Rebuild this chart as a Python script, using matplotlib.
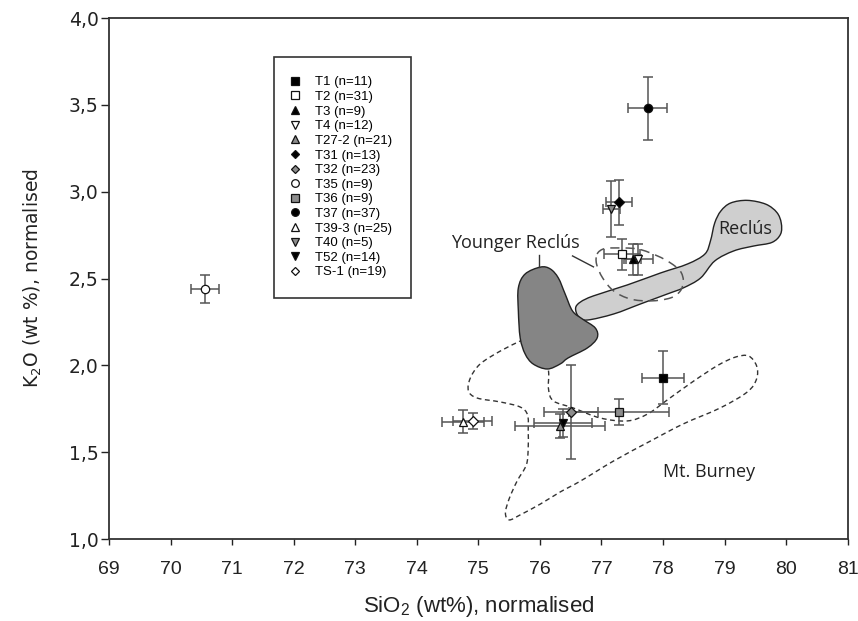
'''
Diagrama K2O vs SiO2 (normalizados) de tefras, con los campos de Reclús,
Younger Reclús y Mt. Burney.
'''
import numpy as np
import matplotlib
matplotlib.use('Agg')
import matplotlib.pyplot as plt
from matplotlib.path import Path
from matplotlib.patches import PathPatch
from matplotlib.lines import Line2D

plt.rcParams['mathtext.fontset'] = 'custom'
plt.rcParams['mathtext.rm'] = 'Liberation Sans'
plt.rcParams['mathtext.default'] = 'regular'

# ---Datos---
muestras = ['T1 (n=11)', 'T2 (n=31)', 'T3 (n=9)', 'T4 (n=12)', 'T27-2 (n=21)',
            'T31 (n=13)', 'T32 (n=23)', 'T35 (n=9)', 'T36 (n=9)', 'T37 (n=37)',
            'T39-3 (n=25)', 'T40 (n=5)', 'T52 (n=14)', 'TS-1 (n=19)']
sio2 = [78.00, 77.33, 77.52, 77.60, 76.32, 77.29, 76.50, 70.56, 77.29, 77.75,
        74.75, 77.16, 76.37, 74.91]
k2o = [1.93, 2.64, 2.61, 2.61, 1.65, 2.94, 1.73, 2.44, 1.73, 3.48,
       1.675, 2.90, 1.67, 1.68]
sio2_err = [0.34, 0.29, 0.12, 0.24, 0.73, 0.21, 0.44, 0.23, 0.81, 0.32,
            0.34, 0.14, 0.47, 0.32]
k2o_err = [0.15, 0.09, 0.09, 0.09, 0.07, 0.13, 0.27, 0.08, 0.075, 0.18,
           0.066, 0.16, 0.08, 0.045]

# Campos (contornos en unidades de los ejes)
reclus_x = [76.58, 76.66, 76.87, 77.42, 77.96, 78.40, 78.68, 78.77, 78.84, 78.94,
            79.10, 79.37, 79.67, 79.85, 79.92, 79.91, 79.77, 79.47, 79.15, 78.84,
            78.61, 78.33, 78.07, 77.63, 77.20, 76.77, 76.63]
reclus_y = [2.330, 2.365, 2.400, 2.463, 2.532, 2.584, 2.641, 2.716, 2.820, 2.889,
            2.935, 2.950, 2.928, 2.880, 2.820, 2.756, 2.708, 2.687, 2.659, 2.601,
            2.503, 2.446, 2.411, 2.353, 2.296, 2.261, 2.279]

oscuro_x = [76.01, 76.17, 76.30, 76.41, 76.53, 76.69, 76.90, 76.93, 76.77, 76.46,
            76.33, 76.12, 75.89, 75.76, 75.68, 75.65, 75.65, 75.76]
oscuro_y = [2.566, 2.555, 2.503, 2.411, 2.313, 2.267, 2.215, 2.158, 2.100, 2.043,
            2.008, 1.979, 2.008, 2.066, 2.158, 2.313, 2.446, 2.526]

younger_x = [76.93, 77.03, 77.20, 77.59, 77.91, 78.12, 78.28, 78.33, 78.28, 78.12,
             77.80, 77.47, 77.20, 77.02, 76.92]
younger_y = [2.641, 2.670, 2.676, 2.670, 2.630, 2.590, 2.543, 2.486, 2.428, 2.388,
             2.371, 2.382, 2.428, 2.503, 2.584]

burney_x = [75.85, 75.68, 75.36, 75.03, 74.87, 74.84, 74.98, 75.36, 75.68, 75.80,
            75.81, 75.81, 75.78, 75.63, 75.50, 75.44, 75.50, 75.68, 76.01, 76.33,
            76.66, 77.20, 77.80, 78.33, 78.93, 79.37, 79.52, 79.52, 79.39, 79.18,
            78.90, 78.50, 78.07, 77.75, 77.42, 76.98, 76.54, 76.22, 76.14, 76.14,
            76.06]
burney_y = [2.169, 2.140, 2.083, 2.008, 1.927, 1.853, 1.812, 1.789, 1.760, 1.714,
            1.622, 1.524, 1.427, 1.334, 1.231, 1.150, 1.110, 1.139, 1.202, 1.271,
            1.334, 1.450, 1.565, 1.663, 1.755, 1.847, 1.922, 1.997, 2.054, 2.048,
            2.002, 1.910, 1.801, 1.720, 1.680, 1.697, 1.755, 1.795, 1.864, 1.968,
            2.112]

# ---Estilos de marcador---
estilos = [('s', 'k'), ('s', 'w'), ('^', 'k'), ('v', 'w'), ('^', '#8c8c8c'),
           ('D', 'k'), ('D', '#8c8c8c'), ('o', 'w'), ('s', '#8c8c8c'), ('o', 'k'),
           ('^', 'w'), ('v', '#8c8c8c'), ('v', 'k'), ('D', 'w')]


def contorno(xs, ys):
    '''Camino cerrado suave (Catmull-Rom -> Bezier) por los puntos dados.'''
    p = np.column_stack([xs, ys])
    n = len(p)
    verts = [p[0]]
    codes = [Path.MOVETO]
    for i in range(n):
        p0, p1, p2, p3 = p[i - 1], p[i], p[(i + 1) % n], p[(i + 2) % n]
        verts += [p1 + (p2 - p0) / 6, p2 - (p3 - p1) / 6, p2]
        codes += [Path.CURVE4] * 3
    return Path(verts, codes)


fig = plt.figure(figsize=(8.58, 6.21), dpi=100)
ax = fig.add_axes([0.127, 0.132, 0.861, 0.839])

# Campos
ax.add_patch(PathPatch(contorno(burney_x, burney_y), fill=False, edgecolor='#333333',
                       lw=1.0, ls=(0, (3.5, 2.5)), zorder=1))
ax.add_patch(PathPatch(contorno(reclus_x, reclus_y), facecolor='#cfcfcf',
                       edgecolor='#222222', lw=1.0, zorder=2))
ax.add_patch(PathPatch(contorno(oscuro_x, oscuro_y), facecolor='#858585',
                       edgecolor='#222222', lw=1.0, zorder=2))
ax.add_patch(PathPatch(contorno(younger_x, younger_y), fill=False, edgecolor='#555555',
                       lw=1.1, ls=(0, (6, 4)), zorder=3))

# Lineas guia
ax.plot([76.53, 76.87], [2.630, 2.567], color='#333333', lw=1.0, zorder=3)
ax.plot([75.99, 75.99], [2.636, 2.566], color='#333333', lw=1.0, zorder=3)

ax.text(75.60, 2.674, 'Younger Reclús', family='Open Sans', fontsize=13,
        ha='center', va='baseline', color='#222222')
ax.text(79.33, 2.756, 'Reclús', family='Open Sans', fontsize=13,
        ha='center', va='baseline', color='#222222')
ax.text(78.74, 1.358, 'Mt. Burney', family='Open Sans', fontsize=13,
        ha='center', va='baseline', color='#222222')

# Puntos con barras de error
handles = []
for i in range(len(muestras)):
    m, fc = estilos[i]
    ms = 5.0 if m == 'D' else 6.0
    ax.errorbar(sio2[i], k2o[i], xerr=sio2_err[i], yerr=k2o_err[i], fmt='none',
                ecolor='#555555', elinewidth=1.1, capsize=3.3, capthick=1.1, zorder=4)
    ax.plot(sio2[i], k2o[i], marker=m, ms=ms, mfc=fc, mec='#111111', mew=0.9,
            ls='none', zorder=5)
    handles.append(Line2D([], [], marker=m, ms=ms - 0.5, mfc=fc, mec='#111111',
                          mew=0.9, ls='none', label=muestras[i]))

leg = ax.legend(handles=handles, loc='upper left', bbox_to_anchor=(0.223, 0.925),
                borderaxespad=0, prop={'family': 'Liberation Sans', 'size': 9.5},
                handlelength=0.4, handletextpad=1.25, borderpad=1.45,
                labelspacing=0.18, fancybox=False, framealpha=1)
leg.get_frame().set_edgecolor('#333333')
leg.get_frame().set_linewidth(1.2)

# Ejes
ax.set_xlim(69, 81)
ax.set_ylim(1.0, 4.0)
ax.set_xticks(np.arange(69, 82, 1))
ax.set_yticks(np.arange(1.0, 4.01, 0.5))
ax.set_yticklabels(['1,0', '1,5', '2,0', '2,5', '3,0', '3,5', '4,0'])
for lab in ax.get_xticklabels():
    lab.set_fontfamily('Liberation Sans')
    lab.set_fontsize(14)
for lab in ax.get_yticklabels():
    lab.set_fontfamily('DejaVu Sans')
    lab.set_fontsize(13.5)
ax.tick_params(axis='x', direction='out', length=4.5, width=1, pad=11, colors='#222222')
ax.tick_params(axis='y', direction='out', length=5.5, width=1, pad=2, colors='#222222')
for s in ax.spines.values():
    s.set_color('#333333')
    s.set_linewidth(1.3)

ax.set_xlabel('SiO$_2$ (wt%), normalised', family='Liberation Sans', fontsize=16,
              labelpad=12, color='#222222')
ax.set_ylabel('K$_2$O (wt %), normalised', family='DejaVu Sans', fontsize=13.5,
              labelpad=18, color='#222222')

fig.savefig('out.png', dpi=100)
